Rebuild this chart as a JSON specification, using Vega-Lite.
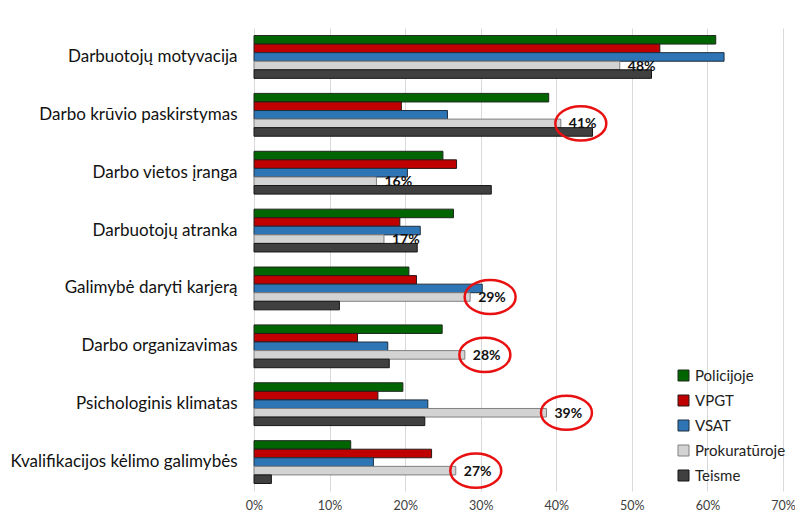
{
  "$schema": "https://vega.github.io/schema/vega-lite/v6.json",
  "width": 529,
  "height": 463,
  "autosize": "none",
  "padding": {"left": 254, "top": 28, "right": 12, "bottom": 22},
  "background": "white",
  "config": {
    "font": "Lato",
    "view": {"stroke": null}
  },
  "data": {
    "values": [
      {"category": "Darbuotojų motyvacija", "series": "Policijoje", "value": 0.611},
      {"category": "Darbuotojų motyvacija", "series": "VPGT", "value": 0.537},
      {"category": "Darbuotojų motyvacija", "series": "VSAT", "value": 0.622},
      {"category": "Darbuotojų motyvacija", "series": "Prokuratūroje", "value": 0.484},
      {"category": "Darbuotojų motyvacija", "series": "Teisme", "value": 0.526},
      {"category": "Darbo krūvio paskirstymas", "series": "Policijoje", "value": 0.390},
      {"category": "Darbo krūvio paskirstymas", "series": "VPGT", "value": 0.195},
      {"category": "Darbo krūvio paskirstymas", "series": "VSAT", "value": 0.256},
      {"category": "Darbo krūvio paskirstymas", "series": "Prokuratūroje", "value": 0.406},
      {"category": "Darbo krūvio paskirstymas", "series": "Teisme", "value": 0.448},
      {"category": "Darbo vietos įranga", "series": "Policijoje", "value": 0.250},
      {"category": "Darbo vietos įranga", "series": "VPGT", "value": 0.268},
      {"category": "Darbo vietos įranga", "series": "VSAT", "value": 0.203},
      {"category": "Darbo vietos įranga", "series": "Prokuratūroje", "value": 0.162},
      {"category": "Darbo vietos įranga", "series": "Teisme", "value": 0.314},
      {"category": "Darbuotojų atranka", "series": "Policijoje", "value": 0.264},
      {"category": "Darbuotojų atranka", "series": "VPGT", "value": 0.193},
      {"category": "Darbuotojų atranka", "series": "VSAT", "value": 0.220},
      {"category": "Darbuotojų atranka", "series": "Prokuratūroje", "value": 0.172},
      {"category": "Darbuotojų atranka", "series": "Teisme", "value": 0.216},
      {"category": "Galimybė daryti karjerą", "series": "Policijoje", "value": 0.205},
      {"category": "Galimybė daryti karjerą", "series": "VPGT", "value": 0.215},
      {"category": "Galimybė daryti karjerą", "series": "VSAT", "value": 0.302},
      {"category": "Galimybė daryti karjerą", "series": "Prokuratūroje", "value": 0.286},
      {"category": "Galimybė daryti karjerą", "series": "Teisme", "value": 0.113},
      {"category": "Darbo organizavimas", "series": "Policijoje", "value": 0.249},
      {"category": "Darbo organizavimas", "series": "VPGT", "value": 0.137},
      {"category": "Darbo organizavimas", "series": "VSAT", "value": 0.177},
      {"category": "Darbo organizavimas", "series": "Prokuratūroje", "value": 0.279},
      {"category": "Darbo organizavimas", "series": "Teisme", "value": 0.179},
      {"category": "Psichologinis klimatas", "series": "Policijoje", "value": 0.197},
      {"category": "Psichologinis klimatas", "series": "VPGT", "value": 0.164},
      {"category": "Psichologinis klimatas", "series": "VSAT", "value": 0.230},
      {"category": "Psichologinis klimatas", "series": "Prokuratūroje", "value": 0.387},
      {"category": "Psichologinis klimatas", "series": "Teisme", "value": 0.226},
      {"category": "Kvalifikacijos kėlimo galimybės", "series": "Policijoje", "value": 0.128},
      {"category": "Kvalifikacijos kėlimo galimybės", "series": "VPGT", "value": 0.235},
      {"category": "Kvalifikacijos kėlimo galimybės", "series": "VSAT", "value": 0.158},
      {"category": "Kvalifikacijos kėlimo galimybės", "series": "Prokuratūroje", "value": 0.267},
      {"category": "Kvalifikacijos kėlimo galimybės", "series": "Teisme", "value": 0.023}
    ]
  },
  "encoding": {
    "y": {
      "field": "category",
      "type": "nominal",
      "sort": null,
      "scale": {"paddingInner": 0.26, "paddingOuter": 0.13},
      "axis": {
        "title": null,
        "domain": false,
        "ticks": false,
        "labelFontSize": 17,
        "labelColor": "#111111",
        "labelPadding": 17,
        "labelLimit": 300
      }
    },
    "yOffset": {
      "field": "series",
      "type": "nominal",
      "sort": ["Policijoje", "VPGT", "VSAT", "Prokuratūroje", "Teisme"],
      "scale": {"domain": ["Policijoje", "VPGT", "VSAT", "Prokuratūroje", "Teisme"], "paddingInner": 0, "paddingOuter": 0}
    },
    "x": {
      "field": "value",
      "type": "quantitative",
      "scale": {"domain": [0, 0.7], "nice": false},
      "axis": {
        "title": null,
        "format": ".0%",
        "values": [0, 0.1, 0.2, 0.3, 0.4, 0.5, 0.6, 0.7],
        "domain": false,
        "ticks": false,
        "grid": true,
        "gridColor": "#d9d9d9",
        "gridWidth": 1,
        "labelFlush": false,
        "labelFontSize": 12.5,
        "labelColor": "#404040",
        "labelPadding": 8
      }
    }
  },
  "layer": [
    {
      "mark": {"type": "bar", "strokeWidth": 1},
      "encoding": {
        "fill": {
          "field": "series",
          "type": "nominal",
          "sort": ["Policijoje", "VPGT", "VSAT", "Prokuratūroje", "Teisme"],
          "scale": {
            "domain": ["Policijoje", "VPGT", "VSAT", "Prokuratūroje", "Teisme"],
            "range": ["#006400", "#c00000", "#2e75b6", "#d3d3d3", "#404040"]
          },
          "legend": {
            "title": null,
            "orient": "none",
            "legendX": 422,
            "legendY": 340,
            "symbolType": "square",
            "symbolSize": 121,
            "symbolStrokeWidth": 1,
            "labelFontSize": 15,
            "labelColor": "#222222",
            "labelOffset": 4,
            "rowPadding": 9
          }
        },
        "stroke": {
          "field": "series",
          "type": "nominal",
          "sort": ["Policijoje", "VPGT", "VSAT", "Prokuratūroje", "Teisme"],
          "scale": {
            "domain": ["Policijoje", "VPGT", "VSAT", "Prokuratūroje", "Teisme"],
            "range": ["#1f2a1f", "#2a1a1a", "#1f2f3f", "#808080", "#151515"]
          }
        }
      }
    },
    {
      "transform": [{"filter": "datum.series === 'Prokuratūroje'"}],
      "mark": {"type": "text", "align": "left", "baseline": "middle", "dx": 8, "dy": 1, "fontSize": 14, "fontWeight": "bold", "color": "#111111"},
      "encoding": {
        "text": {"field": "value", "type": "quantitative", "format": ".0%"}
      }
    },
    {
      "transform": [
        {"filter": {"field": "series", "equal": "Prokuratūroje"}},
        {"filter": {"field": "category", "oneOf": ["Darbo krūvio paskirstymas", "Galimybė daryti karjerą", "Darbo organizavimas", "Psichologinis klimatas", "Kvalifikacijos kėlimo galimybės"]}}
      ],
      "mark": {
        "type": "point",
        "shape": "M-1,0A1,0.67,0,1,1,1,0A1,0.67,0,1,1,-1,0Z",
        "filled": false,
        "stroke": "#e81010",
        "strokeWidth": 2.5,
        "opacity": 1,
        "size": 2601,
        "xOffset": 20
      }
    }
  ]
}
